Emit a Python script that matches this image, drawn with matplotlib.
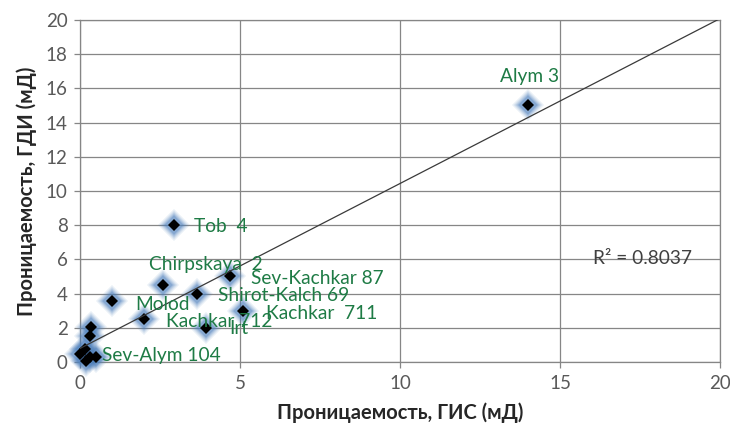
import numpy as np
import matplotlib
matplotlib.use('Agg')
import matplotlib.pyplot as plt

plt.rcParams['font.family'] = ['Lato', 'DejaVu Sans']

# ГИС vs ГДИ permeability (mD)
GIS = [14.0, 2.95, 2.6, 4.7, 3.65, 5.1, 1.0, 2.0, 3.95, 0.35, 0.3, 0.15, 0.0, 0.3, 0.5, 0.2]
GDI = [15.0, 8.0, 4.5, 5.0, 4.0, 3.0, 3.55, 2.5, 2.0, 2.05, 1.5, 0.75, 0.45, 0.3, 0.3, 0.05]
NOMBRES = ['Alym 3', 'Tob  4', 'Chirpskaya  2', 'Sev-Kachkar 87', 'Shirot-Kalch 69',
           'Kachkar  711', 'Molod', 'Kachkar 712', 'Irt', '', '', '', '', '', 'Sev-Alym 104', '']
R2_TEXTO = 'R² = 0.8037'

# label offsets in pixels (dx, dy, ha)
OFFSETS = [(2, 29, 'center'), (20, -1, 'left'), (-14, 21, 'left'), (21, -2, 'left'),
           (21, -2, 'left'), (23, -3, 'left'), (23, -3, 'left'), (22, -2, 'left'),
           (23, -1, 'left'), (0, 0, 'left'), (0, 0, 'left'), (0, 0, 'left'),
           (0, 0, 'left'), (0, 0, 'left'), (6, 1, 'left'), (0, 0, 'left')]

X = np.array(GIS)
Y = np.array(GDI)

fig = plt.figure(figsize=(7.3, 4.32), dpi=100)
ax = fig.add_axes([0.1096, 0.162, 0.8767, 0.792])

GRIS = '#868686'
ax.set_xlim(0, 20)
ax.set_ylim(0, 20)
ax.set_xticks(np.arange(0, 21, 5))
ax.set_yticks(np.arange(0, 21, 2))
ax.grid(True, color=GRIS, linewidth=0.9)
ax.set_axisbelow(True)
for s in ax.spines.values():
    s.set_color(GRIS)
    s.set_linewidth(0.9)
ax.tick_params(colors=GRIS, labelcolor='#595959', labelsize=13.5, length=4, width=0.9, pad=5)

# blue glow under the markers
for ms, al in [(16, 0.12), (14, 0.18), (12, 0.26), (10, 0.4)]:
    ax.plot(X, Y, 'D', ms=ms, color='#4F81BD', alpha=al, mew=0, zorder=3, clip_on=False)
ax.plot(X, Y, 'D', ms=6.6, color='black', mew=0, zorder=4, clip_on=False)

# linear trend
k, b = np.polyfit(X, Y, 1)
xt = np.array([X.min(), 20])
ax.plot(xt, k * xt + b, color='#3a3a3a', linewidth=0.9, zorder=5)

for i in range(len(X)):
    if NOMBRES[i] == '':
        continue
    dx, dy, ha = OFFSETS[i]
    ax.annotate(NOMBRES[i], (X[i], Y[i]), xytext=(dx, dy), textcoords='offset pixels',
                ha=ha, va='center', color='#1E7B45', fontsize=13.8, zorder=6)

ax.text(593, 173, R2_TEXTO, transform=None, fontsize=13.8, color='#404040', va='center')

ax.set_xlabel('Проницаемость, ГИС (мД)', fontsize=14.5, fontweight='bold', color='#262626', labelpad=8)
ax.set_ylabel('Проницаемость, ГДИ (мД)', fontsize=14.5, fontweight='bold', color='#262626', labelpad=6)

plt.savefig('out.png', dpi=100)
